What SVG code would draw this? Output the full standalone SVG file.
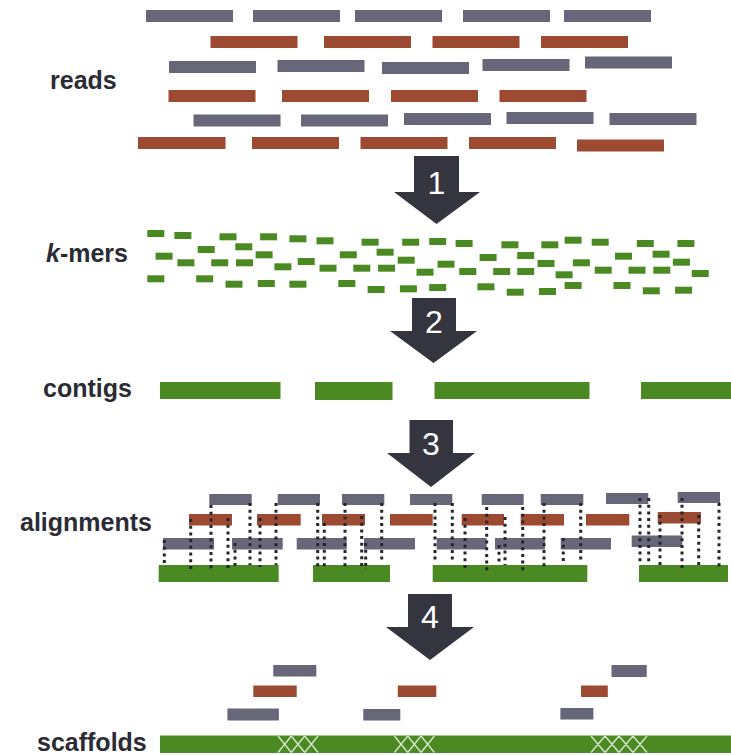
<svg xmlns="http://www.w3.org/2000/svg" width="731" height="755" viewBox="0 0 731 755">
<style>
.gy{fill:#676779}
.rd{fill:#9d4a33}
.gn{fill:#4b8a22}
.lbl{font-family:"Liberation Sans",Arial,sans-serif;font-weight:bold;font-size:25px;fill:#2b2b34}
.arr{fill:#35353f}
.num{font-family:"Liberation Sans",Arial,sans-serif;font-size:32px;fill:#ffffff;text-anchor:middle}
.dl{stroke:#25252e;stroke-width:3;stroke-dasharray:3 3.7;fill:none}
.xh{stroke:#e4eedc;stroke-width:1.4;fill:none;opacity:0.9}
</style>
<rect width="731" height="755" fill="#ffffff"/>

<g id="label-reads"><text class="lbl" x="50" y="89">reads</text></g>
<g id="label-kmers"><text class="lbl" x="46" y="262"><tspan font-style="italic">k</tspan>-mers</text></g>
<g id="label-contigs"><text class="lbl" x="43" y="397">contigs</text></g>
<g id="label-alignments"><text class="lbl" x="20" y="531">alignments</text></g>
<g id="label-scaffolds"><text class="lbl" x="37" y="751">scaffolds</text></g>

<g id="reads">
<rect class="gy" x="146" y="10" width="87" height="12"/>
<rect class="gy" x="253" y="10" width="87" height="12"/>
<rect class="gy" x="355" y="10" width="87" height="12"/>
<rect class="gy" x="463" y="10" width="87" height="12"/>
<rect class="gy" x="564" y="10" width="87" height="12"/>
<rect class="rd" x="210.5" y="36" width="87" height="12"/>
<rect class="rd" x="324" y="36" width="87" height="12"/>
<rect class="rd" x="432.5" y="36" width="87" height="12"/>
<rect class="rd" x="541" y="36" width="87" height="12"/>
<rect class="gy" x="169" y="61" width="87" height="12"/>
<rect class="gy" x="277.5" y="60" width="87" height="12"/>
<rect class="gy" x="382" y="62" width="87" height="12"/>
<rect class="gy" x="482.5" y="59" width="87" height="12"/>
<rect class="gy" x="585" y="56.5" width="87" height="12"/>
<rect class="rd" x="168.5" y="90" width="87" height="12"/>
<rect class="rd" x="282" y="90" width="87" height="12"/>
<rect class="rd" x="391" y="90" width="87" height="12"/>
<rect class="rd" x="499.5" y="90" width="87" height="12"/>
<rect class="gy" x="193.5" y="114.5" width="87" height="12"/>
<rect class="gy" x="301" y="114.5" width="87" height="12"/>
<rect class="gy" x="404" y="113" width="87" height="12"/>
<rect class="gy" x="506.5" y="112" width="87" height="12"/>
<rect class="gy" x="609.5" y="113" width="87" height="12"/>
<rect class="rd" x="138" y="137" width="87.5" height="12"/>
<rect class="rd" x="252" y="137" width="87" height="12"/>
<rect class="rd" x="360.5" y="137" width="87" height="12"/>
<rect class="rd" x="469" y="137" width="87" height="12"/>
<rect class="rd" x="577" y="139.5" width="87" height="12"/>
</g>

<g id="kmers" class="gn">
<rect x="147.3" y="230" width="17" height="7"/>
<rect x="174.4" y="232" width="17" height="7"/>
<rect x="219.5" y="233.3" width="17" height="7"/>
<rect x="260.1" y="233.3" width="17" height="7"/>
<rect x="289.4" y="235.3" width="17" height="7"/>
<rect x="316.5" y="237.3" width="17" height="7"/>
<rect x="361.6" y="238.7" width="17" height="7"/>
<rect x="402.2" y="238.7" width="17" height="7"/>
<rect x="429.2" y="238" width="17" height="7"/>
<rect x="455.6" y="240" width="17" height="7"/>
<rect x="501.4" y="241.3" width="17" height="7"/>
<rect x="541.3" y="241.3" width="17" height="7"/>
<rect x="564.6" y="236.7" width="17" height="7"/>
<rect x="591.7" y="238.7" width="17" height="7"/>
<rect x="636.8" y="240" width="17" height="7"/>
<rect x="677.4" y="240" width="17" height="7"/>
<rect x="197.7" y="246" width="17" height="7"/>
<rect x="235.3" y="243.3" width="17" height="7"/>
<rect x="155.6" y="252.7" width="17" height="7"/>
<rect x="255.6" y="251.3" width="17" height="7"/>
<rect x="339.8" y="251.3" width="17" height="7"/>
<rect x="376.6" y="248.7" width="17" height="7"/>
<rect x="479.6" y="254" width="17" height="7"/>
<rect x="517.2" y="252" width="17" height="7"/>
<rect x="615" y="252.7" width="17" height="7"/>
<rect x="652.6" y="250.7" width="17" height="7"/>
<rect x="177.4" y="259.3" width="17" height="7"/>
<rect x="211.2" y="259.3" width="17" height="7"/>
<rect x="236" y="259.3" width="17" height="7"/>
<rect x="274.4" y="263.3" width="17" height="7"/>
<rect x="297.7" y="258" width="17" height="7"/>
<rect x="319.5" y="264.7" width="17" height="7"/>
<rect x="353.3" y="264.7" width="17" height="7"/>
<rect x="378.1" y="264.7" width="17" height="7"/>
<rect x="397.7" y="256.7" width="17" height="7"/>
<rect x="416.5" y="268.7" width="17" height="7"/>
<rect x="437.5" y="260.7" width="17" height="7"/>
<rect x="459.3" y="268" width="17" height="7"/>
<rect x="493.2" y="268" width="17" height="7"/>
<rect x="517.2" y="268" width="17" height="7"/>
<rect x="537.5" y="260" width="17" height="7"/>
<rect x="555.6" y="271.3" width="17" height="7"/>
<rect x="572.9" y="259.3" width="17" height="7"/>
<rect x="594.7" y="266.7" width="17" height="7"/>
<rect x="628.5" y="266.7" width="17" height="7"/>
<rect x="653.3" y="266.7" width="17" height="7"/>
<rect x="672.9" y="258.7" width="17" height="7"/>
<rect x="691.7" y="270" width="17" height="7"/>
<rect x="147.3" y="275.3" width="17" height="7"/>
<rect x="196.2" y="275.3" width="17" height="7"/>
<rect x="225.5" y="280.7" width="17" height="7"/>
<rect x="257.8" y="280" width="17" height="7"/>
<rect x="289.4" y="280.7" width="17" height="7"/>
<rect x="338.3" y="280" width="17" height="7"/>
<rect x="367.6" y="286" width="17" height="7"/>
<rect x="399.9" y="285.3" width="17" height="7"/>
<rect x="429.2" y="284" width="17" height="7"/>
<rect x="477.4" y="283.3" width="17" height="7"/>
<rect x="506.7" y="288.7" width="17" height="7"/>
<rect x="539" y="288" width="17" height="7"/>
<rect x="564.6" y="282" width="17" height="7"/>
<rect x="613.5" y="282" width="17" height="7"/>
<rect x="642.8" y="287.3" width="17" height="7"/>
<rect x="675.1" y="286.7" width="17" height="7"/>
</g>

<g id="contigs" class="gn">
<rect x="160" y="382" width="120.5" height="17"/>
<rect x="315" y="382" width="77.5" height="18"/>
<rect x="434.5" y="382" width="155" height="17"/>
<rect x="641" y="382" width="90" height="17"/>
</g>

<g id="alignments">
<rect class="gn" x="158.7" y="565" width="120" height="17"/>
<rect class="gn" x="313" y="565" width="77" height="17"/>
<rect class="gn" x="432.7" y="565" width="154.6" height="17"/>
<rect class="gn" x="639" y="565" width="89" height="17"/>
<rect class="gy" x="209.3" y="494" width="42.4" height="11"/>
<rect class="gy" x="277.7" y="494" width="42.3" height="11"/>
<rect class="gy" x="342" y="494" width="42.3" height="11"/>
<rect class="gy" x="410" y="494" width="42.3" height="11"/>
<rect class="gy" x="481.7" y="494" width="42" height="11"/>
<rect class="gy" x="540.7" y="494" width="42.6" height="11"/>
<rect class="gy" x="606" y="493" width="42.3" height="11"/>
<rect class="gy" x="677.7" y="492" width="42.3" height="11"/>
<rect class="rd" x="189" y="514" width="43" height="11.5"/>
<rect class="rd" x="257" y="514" width="43.7" height="11.5"/>
<rect class="rd" x="322" y="514" width="43" height="11.5"/>
<rect class="rd" x="390" y="514" width="42.7" height="11.5"/>
<rect class="rd" x="461.7" y="514" width="42.3" height="11.5"/>
<rect class="rd" x="520.7" y="514" width="43.3" height="11.5"/>
<rect class="rd" x="586" y="514" width="43.3" height="11.5"/>
<rect class="rd" x="657.7" y="512" width="43.3" height="11.5"/>
<rect class="gy" x="163" y="538" width="51" height="11.5"/>
<rect class="gy" x="232" y="538" width="50.7" height="11.5"/>
<rect class="gy" x="296.7" y="538" width="50" height="11.5"/>
<rect class="gy" x="364" y="538" width="51" height="11.5"/>
<rect class="gy" x="436.7" y="538" width="50" height="11.5"/>
<rect class="gy" x="495" y="538" width="50" height="11.5"/>
<rect class="gy" x="560.7" y="538" width="50.3" height="11.5"/>
<rect class="gy" x="631.7" y="535.5" width="50.6" height="11.5"/>
</g>

<g id="connectors" class="dl">
<path d="M164.3 540V565"/>
<path d="M190.7 519V570"/>
<path d="M211 505V572"/>
<path d="M228 518V569"/>
<path d="M235 543V568"/>
<path d="M250 503V565"/>
<path d="M260 518V567"/>
<path d="M276 503V565"/>
<path d="M317.7 503V568"/>
<path d="M324.3 523V569"/>
<path d="M345 503V567"/>
<path d="M361.7 516V566"/>
<path d="M365.7 543V570"/>
<path d="M381.7 503V563"/>
<path d="M435 503V563"/>
<path d="M452.3 503V563"/>
<path d="M465 518V568"/>
<path d="M486.7 507V572"/>
<path d="M499 545V565"/>
<path d="M505 517V565"/>
<path d="M522.7 507V572"/>
<path d="M544 503V570"/>
<path d="M563.3 538V563"/>
<path d="M580.7 503V563"/>
<path d="M640 498V565"/>
<path d="M648.7 498V565"/>
<path d="M660 515V565"/>
<path d="M682 498V568"/>
<path d="M698.7 515V568"/>
<path d="M719 503V568"/>
</g>

<g id="scaffolds">
<rect class="gy" x="273.3" y="665" width="43" height="11.5"/>
<rect class="gy" x="611.5" y="665" width="35.2" height="12"/>
<rect class="rd" x="253.3" y="685.5" width="43.4" height="11.5"/>
<rect class="rd" x="397.8" y="685.5" width="38.5" height="11.5"/>
<rect class="rd" x="581" y="685.5" width="26.8" height="11.5"/>
<rect class="gy" x="227.4" y="708.5" width="51.5" height="12"/>
<rect class="gy" x="363.3" y="709" width="37" height="11.5"/>
<rect class="gy" x="560.4" y="708" width="33" height="11.5"/>
<rect class="gn" x="160" y="735.5" width="571" height="17.5"/>
<path class="xh" d="M278 736L291.3 752.5M291.3 736L278 752.5M291.3 736L304.7 752.5M304.7 736L291.3 752.5M304.7 736L318 752.5M318 736L304.7 752.5"/>
<path class="xh" d="M394.4 736L407.7 752.5M407.7 736L394.4 752.5M407.7 736L421 752.5M421 736L407.7 752.5M421 736L434.4 752.5M434.4 736L421 752.5"/>
<path class="xh" d="M591 736L605 752.5M605 736L591 752.5M605 736L619 752.5M619 736L605 752.5M619 736L633 752.5M633 736L619 752.5M633 736L647 752.5M647 736L633 752.5"/>
</g>

<g id="step1">
<polygon class="arr" points="414,156 459,156 459,192 480,192 436.5,224 394,192 414,192"/>
<text class="num" x="436.5" y="194">1</text>
</g>
<g id="step2">
<polygon class="arr" points="412,298 456,298 456,331 477,331 433.5,363 390,331 412,331"/>
<text class="num" x="434" y="333">2</text>
</g>
<g id="step3">
<polygon class="arr" points="409.5,420 453,420 453,453 475,453 431,487 387,453 409.5,453"/>
<text class="num" x="431" y="455">3</text>
</g>
<g id="step4">
<polygon class="arr" points="408,594 452,594 452,627 474,627 430,660 386,627 408,627"/>
<text class="num" x="430" y="628">4</text>
</g>
</svg>
